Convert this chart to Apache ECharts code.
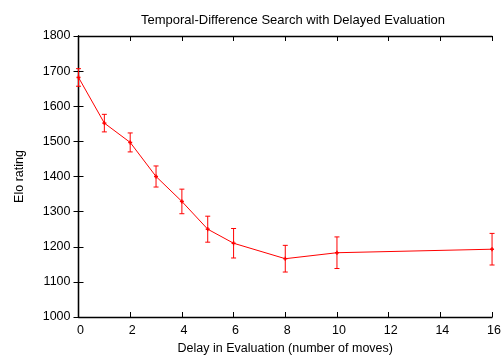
<!DOCTYPE html>
<html>
<head>
<meta charset="utf-8">
<script src="https://cdn.jsdelivr.net/npm/echarts@6/dist/echarts.min.js"></script>
<style>
  html, body { margin: 0; padding: 0; background: #ffffff; }
  #chart { width: 504px; height: 360px; }
</style>
</head>
<body>
<div id="chart"></div>
<script>
// Delay (moves) vs. playing strength with standard-error bars
const delays = [0, 1, 2, 3, 4, 5, 6, 8, 10, 16];
const eloRating = [1682, 1552, 1497, 1400, 1329, 1250, 1210, 1166, 1183, 1193];
const eloError = [25, 25, 27, 30, 35, 37, 42, 38, 45, 45];

const FONT = 'Liberation Sans, Arial, sans-serif';
const RED = '#ff0000';

const lineData = delays.map((d, i) => [d, eloRating[i]]);
const errData = delays.map((d, i) => [d, eloRating[i] - eloError[i], eloRating[i] + eloError[i], eloRating[i]]);

function renderErrorBar(params, api) {
  const x = api.value(0);
  const lo = api.coord([x, api.value(1)]);
  const hi = api.coord([x, api.value(2)]);
  const mid = api.coord([x, api.value(3)]);
  const cap = 2.5;
  const mk = 2;
  const style = { stroke: RED, lineWidth: 1, fill: null };
  return {
    type: 'group',
    children: [
      { type: 'line', shape: { x1: lo[0], y1: lo[1], x2: hi[0], y2: hi[1] }, style },
      { type: 'line', shape: { x1: lo[0] - cap, y1: lo[1], x2: lo[0] + cap, y2: lo[1] }, style },
      { type: 'line', shape: { x1: hi[0] - cap, y1: hi[1], x2: hi[0] + cap, y2: hi[1] }, style },
      { type: 'line', shape: { x1: mid[0] - mk, y1: mid[1], x2: mid[0] + mk, y2: mid[1] }, style: { stroke: RED, lineWidth: 1.5 } },
      { type: 'line', shape: { x1: mid[0], y1: mid[1] - mk, x2: mid[0], y2: mid[1] + mk }, style: { stroke: RED, lineWidth: 1.5 } }
    ]
  };
}

const axisText = { color: '#000', fontFamily: FONT, fontSize: 12.5 };
const frameLine = { show: true, lineStyle: { color: '#000', width: 1.3 } };
const innerTick = { show: true, inside: true, length: 5, lineStyle: { color: '#000' } };

const chart = echarts.init(document.getElementById('chart'), null, { renderer: 'canvas' });
chart.setOption({
  animation: false,
  backgroundColor: '#ffffff',
  title: {
    text: 'Temporal-Difference Search with Delayed Evaluation',
    left: 288,
    textAlign: 'center',
    top: 9,
    textStyle: { color: '#000', fontFamily: FONT, fontSize: 13, fontWeight: 'normal' }
  },
  grid: { left: 78.5, right: 6.5, top: 36, bottom: 42, containLabel: false },
  xAxis: [
    {
      type: 'value', position: 'bottom', min: 0, max: 16, interval: 2,
      name: 'Delay in Evaluation (number of moves)',
      nameLocation: 'middle', nameGap: 25,
      nameTextStyle: axisText,
      axisLine: frameLine,
      axisTick: innerTick,
      axisLabel: Object.assign({
        margin: 7,
        showMaxLabel: true,
        formatter: v => '{gap|}' + v,
        rich: { gap: { width: 4 } }
      }, axisText),
      splitLine: { show: false }
    },
    {
      type: 'value', position: 'top', min: 0, max: 16, interval: 2,
      axisLine: frameLine,
      axisTick: innerTick,
      axisLabel: { show: false },
      splitLine: { show: false }
    }
  ],
  yAxis: [
    {
      type: 'value', position: 'left', min: 1000, max: 1800, interval: 100,
      name: 'Elo rating',
      nameLocation: 'middle', nameGap: 52, nameRotate: 90,
      nameTextStyle: axisText,
      axisLine: frameLine,
      axisTick: innerTick,
      axisLabel: Object.assign({ margin: 8, formatter: v => String(v) }, axisText),
      splitLine: { show: false }
    },
    {
      type: 'value', position: 'right', min: 1000, max: 1800, interval: 100,
      axisLine: frameLine,
      axisTick: innerTick,
      axisLabel: { show: false },
      splitLine: { show: false }
    }
  ],
  series: [
    {
      name: 'Elo',
      type: 'line',
      data: lineData,
      symbol: 'none',
      lineStyle: { color: RED, width: 1 },
      z: 2
    },
    {
      name: 'Error',
      type: 'custom',
      data: errData,
      renderItem: renderErrorBar,
      encode: { x: 0, y: [1, 2] },
      z: 3
    }
  ]
});
</script>
</body>
</html>
